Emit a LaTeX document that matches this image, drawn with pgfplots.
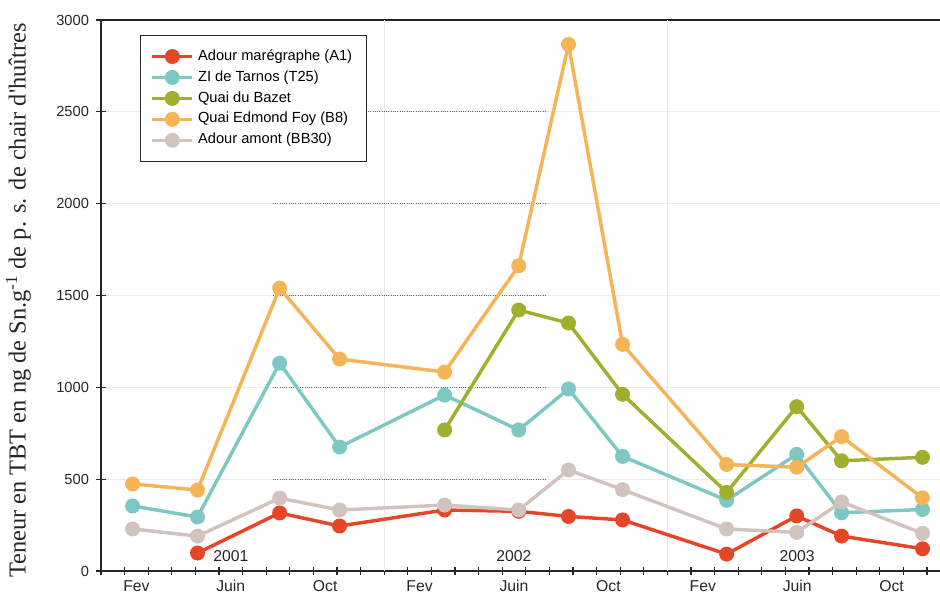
\documentclass[border=0pt]{standalone}
\usepackage{fontspec}
\setmainfont{Liberation Sans}
\newfontfamily\seriffont{Liberation Serif}
\usepackage{pgfplots}
\pgfplotsset{compat=1.18}
\definecolor{cRed}{HTML}{E64628}
\definecolor{cTeal}{HTML}{7DC8C3}
\definecolor{cGreen}{HTML}{A0AF2D}
\definecolor{cOrange}{HTML}{F5B455}
\definecolor{cGrey}{HTML}{D2C3BE}
\definecolor{gridc}{HTML}{E9ECEE}
\begin{document}
\begin{tikzpicture}
\begin{axis}[
  name=ax,
  scale only axis,
  width=637.2pt, height=413.25pt,
  xmin=0, xmax=36, ymin=0, ymax=3000,
  axis line style={line width=1pt, black!85},
  xtick={1.5,5.5,9.5,13.5,17.5,21.5,25.5,29.5,33.5},
  xticklabels={Fev,Juin,Oct,Fev,Juin,Oct,Fev,Juin,Oct},
  minor xtick={0,...,36},
  every major x tick/.append style={draw=none},
  xtick pos=bottom, ytick pos=left,
  ytick={0,500,...,3000},
  tick align=center,
  major tick length=7pt,
  minor tick length=6pt,
  tick style={black!85, line width=0.8pt},
  ymajorgrids=true,
  major grid style={gridc, line width=0.8pt},
  /pgf/number format/assume math mode=true,
  /pgf/number format/1000 sep={},
  yticklabel style={font=\fontsize{11}{12}\selectfont, black!85, xshift=-2pt},
  xticklabel style={font=\fontsize{11.8}{14}\selectfont, black!85, yshift=0pt},
  ylabel={Teneur en TBT en ng de Sn.g\textsuperscript{-1} de p. s. de chair d'huîtres},
  every axis y label/.style={at={(rel axis cs:0,0.491)}, xshift=-62pt, rotate=90, anchor=center,
    font=\seriffont\fontsize{18.3}{20}\selectfont, black!85},
  every axis plot/.append style={line width=2.6pt, mark=*, mark size=4.3pt},
  legend cell align=left,
  legend image code/.code={\draw[mark repeat=2,mark phase=2,#1] plot coordinates {(0pt,0pt) (15pt,0pt) (30pt,0pt)};},
  legend style={at={(rel axis cs:0.046,0.9728)}, anchor=north west, draw=black!85, line width=0.8pt, fill=white,
    font=\fontsize{11}{13}\selectfont, row sep=5.2pt, inner xsep=7.5pt, inner ysep=10.5pt,
    nodes={inner sep=0pt, text height=8pt, text depth=2.5pt, inner xsep=3pt}},
]
% light vertical grid at year boundaries
\draw[gridc, line width=0.8pt] (axis cs:12,0) -- (axis cs:12,3000);
\draw[gridc, line width=0.8pt] (axis cs:24,0) -- (axis cs:24,3000);
% dark dotted segments
\draw[black!60, densely dotted, line width=0.7pt] (axis cs:7.28,500) -- (axis cs:18.9,500);
\draw[black!60, densely dotted, line width=0.7pt] (axis cs:7.28,1000) -- (axis cs:18.9,1000);
\draw[black!60, densely dotted, line width=0.7pt] (axis cs:7.28,1500) -- (axis cs:18.9,1500);
\draw[black!60, densely dotted, line width=0.7pt] (axis cs:7.28,2000) -- (axis cs:18.9,2000);
\draw[black!60, densely dotted, line width=0.7pt] (axis cs:7.28,2500) -- (axis cs:18.9,2500);
\node[font=\fontsize{11.8}{13}\selectfont, black!85] at (axis cs:5.5,82) {2001};
\node[font=\fontsize{11.8}{13}\selectfont, black!85] at (axis cs:17.5,82) {2002};
\node[font=\fontsize{11.8}{13}\selectfont, black!85] at (axis cs:29.5,82) {2003};

\addplot[color=cRed, mark options={fill=cRed}] coordinates {
(4.09,98) (7.57,316) (10.11,245) (14.56,332) (17.70,325) (19.81,297) (22.10,278) (26.51,92) (29.48,300) (31.38,190) (34.81,121)};
\addlegendentry{Adour marégraphe (A1)}
\addplot[color=cTeal, mark options={fill=cTeal}] coordinates {
(1.34,354) (4.09,294) (7.57,1132) (10.11,675) (14.56,958) (17.70,768) (19.81,991) (22.10,624) (26.51,385) (29.48,635) (31.38,317) (34.81,335)};
\addlegendentry{ZI de Tarnos (T25)}
\addplot[color=cGreen, mark options={fill=cGreen}] coordinates {
(14.56,768) (17.70,1421) (19.81,1350) (22.10,962) (26.51,428) (29.48,895) (31.38,600) (34.81,619)};
\addlegendentry{Quai du Bazet}
\addplot[color=cOrange, mark options={fill=cOrange}] coordinates {
(1.34,474) (4.09,441) (7.57,1540) (10.11,1154) (14.56,1083) (17.70,1662) (19.81,2867) (22.10,1234) (26.51,580) (29.48,565) (31.38,732) (34.81,398)};
\addlegendentry{Quai Edmond Foy (B8)}
\addplot[color=cGrey, mark options={fill=cGrey}] coordinates {
(1.34,229) (4.09,190) (7.57,397) (10.11,332) (14.56,359) (17.70,332) (19.81,550) (22.10,443) (26.51,229) (29.48,210) (31.38,376) (34.81,205)};
\addlegendentry{Adour amont (BB30)}
\end{axis}
\pgfresetboundingbox
\path[use as bounding box] ([xshift=-75.75pt,yshift=-17.25pt]ax.south west) rectangle ++(705pt,445.5pt);
\end{tikzpicture}
\end{document}
